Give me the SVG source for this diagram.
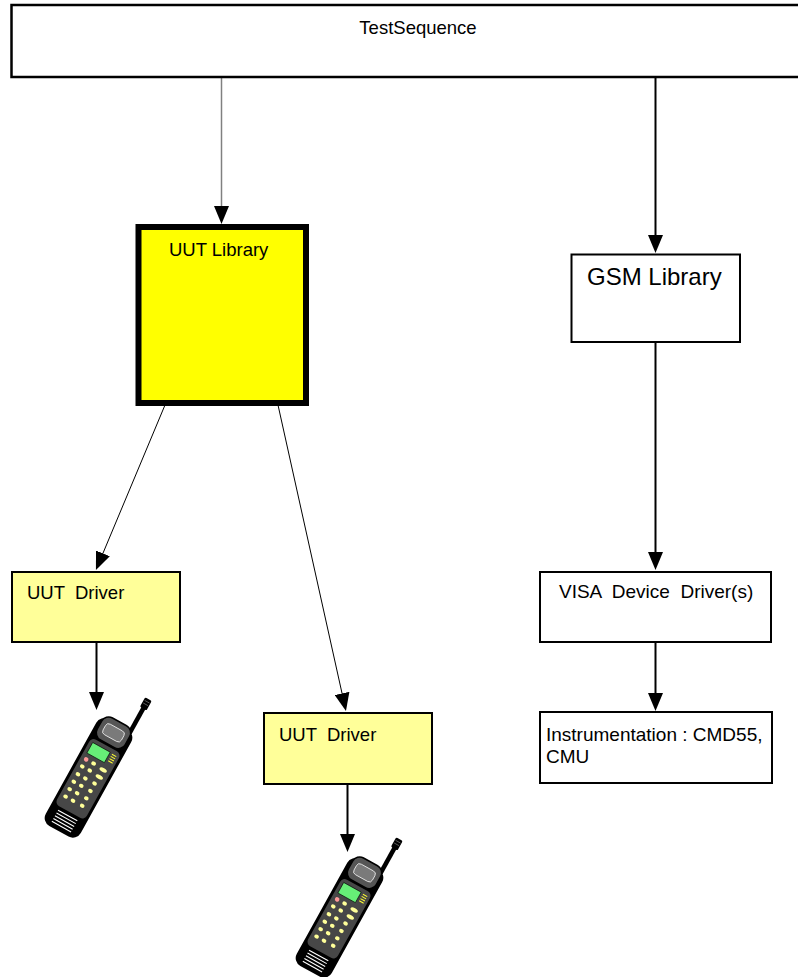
<svg xmlns="http://www.w3.org/2000/svg" xmlns:xlink="http://www.w3.org/1999/xlink" width="798" height="977" viewBox="0 0 798 977">
  <style>
    .lbl { font-family: "Liberation Sans", Arial, sans-serif; font-size: 18.5px; fill: #000; }
    .box { fill: #fff; stroke: #000; stroke-width: 2; }
    .drv { fill: #ffff99; stroke: #000; stroke-width: 2; }
    .wire { fill: none; stroke: #000; stroke-width: 2; }
    .thin { fill: none; stroke: #000; stroke-width: 1; }
    .key { fill: #ffff99; }
  </style>
  <defs>
    <marker id="arrow" markerUnits="userSpaceOnUse" viewBox="0 0 18 15" markerWidth="18" markerHeight="15" refX="14" refY="7.5" orient="auto">
      <path d="M0,0 L18,7.5 L0,15 Z" fill="#000"/>
    </marker>
    <!-- mobile handset, drawn upright and centred on the origin -->
    <g id="handset">
      <rect x="12" y="-90" width="4.5" height="32" fill="#000"/>
      <rect x="10.5" y="-97" width="7.5" height="11" rx="1.5" fill="#000"/>
      <line x1="11.5" y1="-94" x2="17" y2="-94" stroke="#888" stroke-width="0.6"/>
      <line x1="11.5" y1="-91" x2="17" y2="-91" stroke="#888" stroke-width="0.6"/>
      <rect x="-20" y="-60" width="40" height="122" rx="9" fill="#000"/>
      <rect x="-16" y="-63" width="32" height="25" rx="8" fill="#555" stroke="#000" stroke-width="1.5"/>
      <rect x="-10.5" y="-56.5" width="21" height="12" rx="3.5" fill="#7a7a7a" stroke="#eee" stroke-width="0.8"/>
      <rect x="-17" y="-36" width="34" height="76" rx="5" fill="#474747"/>
      <rect x="-13.5" y="-32" width="20" height="12" fill="#66ee77" stroke="#000" stroke-width="0.6"/>
      <g stroke="#ffff33" stroke-width="1">
        <line x1="9" y1="-31" x2="14" y2="-31"/>
        <line x1="9" y1="-28.5" x2="14" y2="-28.5"/>
        <line x1="9" y1="-26" x2="14" y2="-26"/>
        <line x1="9" y1="-23.5" x2="14" y2="-23.5"/>
      </g>
      <circle cx="-11" cy="-14" r="2.3" fill="#ff9999"/>
      <ellipse class="key" cx="-2.5" cy="-14" rx="2.4" ry="2"/>
      <ellipse class="key" cx="-11" cy="-6" rx="2.4" ry="2"/>
      <ellipse class="key" cx="-2.5" cy="-6" rx="2.4" ry="2"/>
      <ellipse class="key" cx="9" cy="-13" rx="4" ry="2"/>
      <ellipse class="key" cx="9" cy="-5" rx="4" ry="2"/>
      <ellipse class="key" cx="-11" cy="3" rx="2.4" ry="2"/>
      <ellipse class="key" cx="-2.5" cy="3" rx="2.4" ry="2"/>
      <ellipse class="key" cx="8" cy="3" rx="2.4" ry="2"/>
      <ellipse class="key" cx="-11" cy="11.5" rx="2.4" ry="2"/>
      <ellipse class="key" cx="-2.5" cy="11.5" rx="2.4" ry="2"/>
      <ellipse class="key" cx="8" cy="11.5" rx="2.4" ry="2"/>
      <ellipse class="key" cx="-11" cy="20" rx="2.4" ry="2"/>
      <ellipse class="key" cx="-2.5" cy="20" rx="2.4" ry="2"/>
      <ellipse class="key" cx="8" cy="20" rx="2.4" ry="2"/>
      <ellipse class="key" cx="-11" cy="28.5" rx="2.4" ry="2"/>
      <ellipse class="key" cx="-2.5" cy="28.5" rx="2.4" ry="2"/>
      <ellipse class="key" cx="8" cy="28.5" rx="2.4" ry="2"/>
      <g stroke="#fff" stroke-width="1.1">
        <line x1="-11" y1="44" x2="11" y2="44"/>
        <line x1="-11" y1="47.2" x2="11" y2="47.2"/>
        <line x1="-11" y1="50.4" x2="11" y2="50.4"/>
        <line x1="-11" y1="53.6" x2="11" y2="53.6"/>
        <line x1="-11" y1="56.8" x2="11" y2="56.8"/>
      </g>
    </g>
  </defs>

  <rect width="798" height="977" fill="#fff"/>

  <!-- connectors -->
  <g id="connectors">
    <line x1="221.5" y1="77" x2="221.5" y2="220" stroke="#808080" stroke-width="1.5" marker-end="url(#arrow)"/>
    <line class="wire" x1="655.5" y1="77" x2="655.5" y2="249" marker-end="url(#arrow)"/>
    <line class="wire" x1="655.5" y1="342" x2="655.5" y2="566" marker-end="url(#arrow)"/>
    <line class="wire" x1="655.5" y1="643" x2="655.5" y2="707" marker-end="url(#arrow)"/>
    <line class="thin" x1="165" y1="405" x2="97.5" y2="566.3" marker-end="url(#arrow)"/>
    <line class="thin" x1="278" y1="405" x2="345.1" y2="707.1" marker-end="url(#arrow)"/>
    <line class="wire" x1="96.5" y1="642" x2="96.5" y2="706" marker-end="url(#arrow)"/>
    <line class="wire" x1="347.5" y1="784" x2="347.5" y2="848" marker-end="url(#arrow)"/>
  </g>

  <g id="test-sequence">
    <rect x="11.5" y="5" width="800" height="72" fill="#fff" stroke="#000" stroke-width="2.5"/>
    <text class="lbl" x="418" y="34" text-anchor="middle">TestSequence</text>
  </g>

  <g id="uut-library">
    <rect x="138.5" y="227" width="167.5" height="176" fill="#ffff00" stroke="#000" stroke-width="6"/>
    <text class="lbl" x="169" y="256">UUT Library</text>
  </g>

  <g id="gsm-library">
    <rect class="box" x="571.5" y="254.5" width="168.5" height="87.5"/>
    <text class="lbl" x="587" y="285" style="font-size:24px">GSM Library</text>
  </g>

  <g id="uut-driver-1">
    <rect class="drv" x="12" y="572" width="168" height="70"/>
    <text class="lbl" x="27" y="599" xml:space="preserve">UUT  Driver</text>
  </g>

  <g id="uut-driver-2">
    <rect class="drv" x="264" y="713" width="168" height="71"/>
    <text class="lbl" x="279" y="740.5" xml:space="preserve">UUT  Driver</text>
  </g>

  <g id="visa-driver">
    <rect class="box" x="540" y="572" width="231" height="70"/>
    <text class="lbl" x="559" y="598" style="font-size:19px" xml:space="preserve">VISA  Device  Driver(s)</text>
  </g>

  <g id="instrumentation">
    <rect class="box" x="540" y="712" width="232" height="71"/>
    <text class="lbl" x="546" y="741" style="font-size:19px">Instrumentation : CMD55,</text>
    <text class="lbl" x="546" y="763" style="font-size:19px">CMU</text>
  </g>

  <g id="handset-1">
    <use xlink:href="#handset" transform="translate(89,777) rotate(29)"/>
  </g>

  <g id="handset-2">
    <use xlink:href="#handset" transform="translate(340,917) rotate(29)"/>
  </g>
</svg>
